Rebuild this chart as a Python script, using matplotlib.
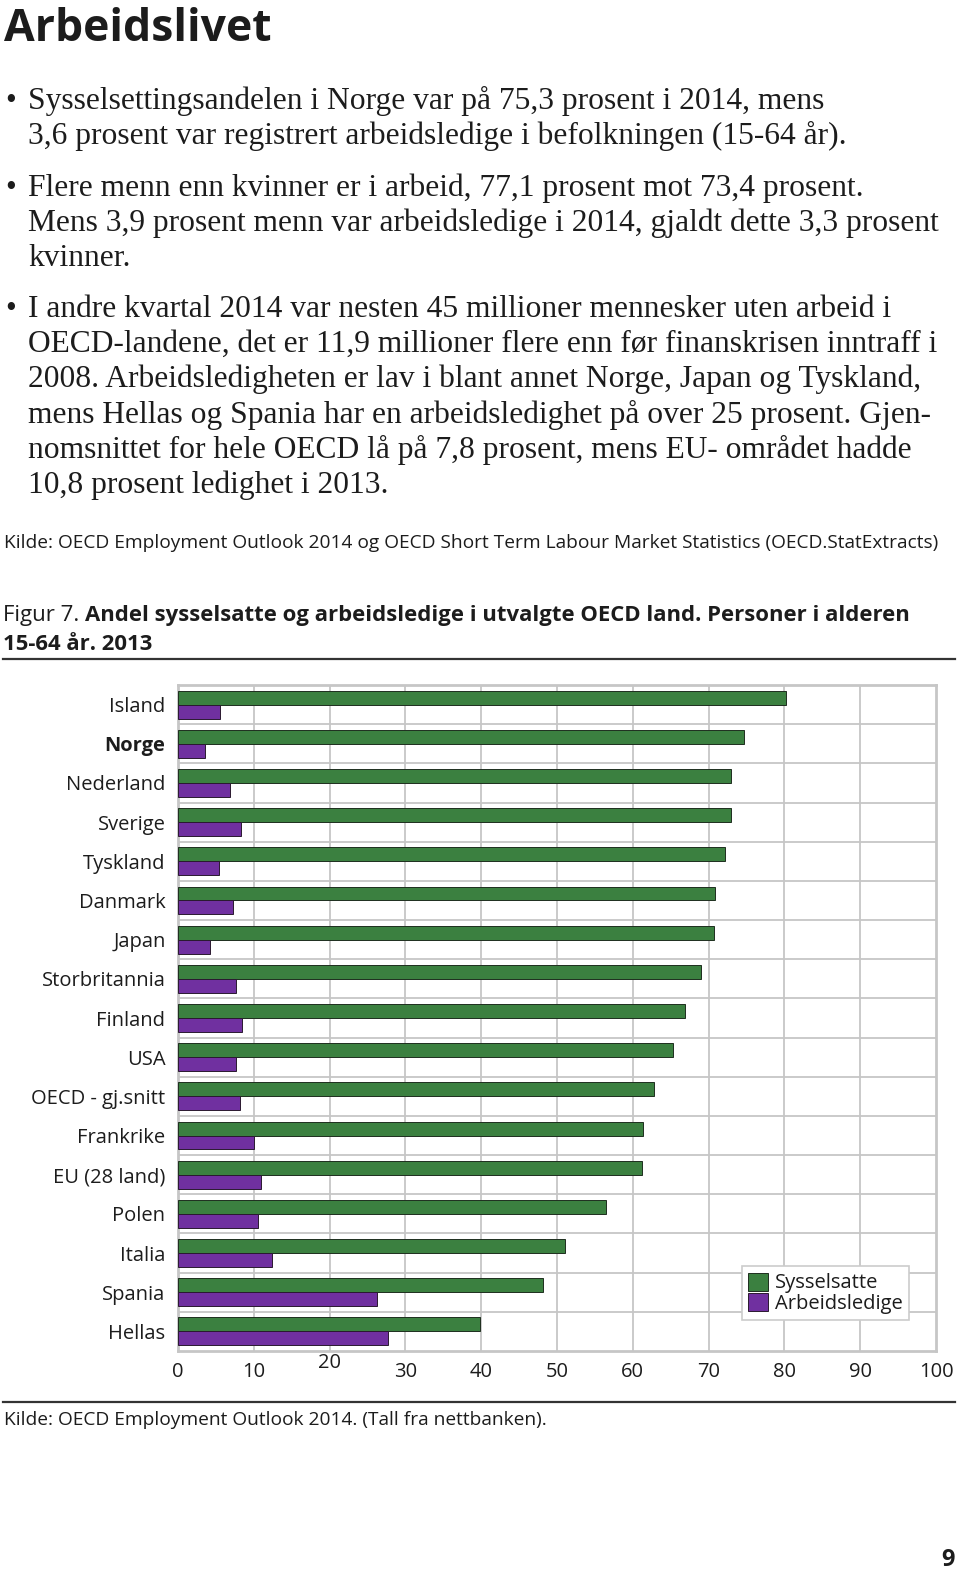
import matplotlib
matplotlib.use("Agg")
from matplotlib import pyplot as plt
from matplotlib.transforms import ScaledTranslation

W, H = 960, 1573

countries = ["Island", "Norge", "Nederland", "Sverige", "Tyskland", "Danmark", "Japan",
             "Storbritannia", "Finland", "USA", "OECD - gj.snitt", "Frankrike",
             "EU (28 land)", "Polen", "Italia", "Spania", "Hellas"]
sysselsatte = [80.2, 74.7, 73.0, 72.9, 72.1, 70.9, 70.7, 69.0, 66.9, 65.3,
               62.8, 61.3, 61.2, 56.5, 51.1, 48.2, 39.9]
arbeidsledige = [5.5, 3.6, 6.8, 8.3, 5.4, 7.2, 4.2, 7.7, 8.4, 7.6,
                 8.2, 10.0, 10.9, 10.5, 12.4, 26.2, 27.7]
xticks = list(range(0, 101, 10))

bullet_lines = [
    ["Sysselsettingsandelen i Norge var på 75,3 prosent i 2014, mens",
     "3,6 prosent var registrert arbeidsledige i befolkningen (15-64 år)."],
    ["Flere menn enn kvinner er i arbeid, 77,1 prosent mot 73,4 prosent.",
     "Mens 3,9 prosent menn var arbeidsledige i 2014, gjaldt dette 3,3 prosent",
     "kvinner."],
    ["I andre kvartal 2014 var nesten 45 millioner mennesker uten arbeid i",
     "OECD-landene, det er 11,9 millioner flere enn før finanskrisen inntraff i",
     "2008. Arbeidsledigheten er lav i blant annet Norge, Japan og Tyskland,",
     "mens Hellas og Spania har en arbeidsledighet på over 25 prosent. Gjen-",
     "nomsnittet for hele OECD lå på 7,8 prosent, mens EU- området hadde",
     "10,8 prosent ledighet i 2013."],
]
bullet_top = [109, 196, 317]
kilde1 = "Kilde: OECD Employment Outlook 2014 og OECD Short Term Labour Market Statistics (OECD.StatExtracts)"
kilde2 = "Kilde: OECD Employment Outlook 2014. (Tall fra nettbanken)."

SANS = "Open Sans"
SERIF = "Liberation Serif"
INK = "#1c1c1c"
GREEN = "#3b8040"
PURPLE = "#7030a0"
GRID = "#c6c6c6"


def fx(x):
    return x / W


def fy(y):
    return 1 - y / H


fig = plt.figure(figsize=(W / 100, H / 100), dpi=100)

# header and bullet text
fig.text(fx(4), fy(41), "Arbeidslivet", family=SANS, weight="bold", size=32, color=INK,
         va="baseline")
for lines, y0 in zip(bullet_lines, bullet_top):
    fig.text(fx(5), fy(y0), "•", family=SERIF, size=22, color=INK, va="baseline")
    for k, line in enumerate(lines):
        fig.text(fx(28), fy(y0 + k * 35.2), line, family=SERIF, size=22.7, color=INK,
                 va="baseline")

fig.text(fx(4), fy(548), kilde1, family=SANS, size=13.8, color=INK, va="baseline")

# figure caption, normal + bold
r = fig.canvas.get_renderer()
t = fig.text(fx(3), fy(621), "Figur 7. ", family=SANS, size=16, color=INK, va="baseline")
x_end = t.get_window_extent(renderer=r).x1
fig.text(x_end / W, fy(621), "Andel sysselsatte og arbeidsledige i utvalgte OECD land. Personer i alderen",
         family=SANS, weight="bold", size=15.9, color=INK, va="baseline")
fig.text(fx(3), fy(650), "15-64 år. 2013", family=SANS, weight="bold", size=15.9, color=INK,
         va="baseline")

fig.add_artist(plt.Line2D([fx(3), fx(955)], [fy(659), fy(659)], color="#333333", lw=1.6))
fig.add_artist(plt.Line2D([fx(3), fx(955)], [fy(1402), fy(1402)], color="#333333", lw=1.6))
fig.text(fx(4), fy(1425), kilde2, family=SANS, size=13.8, color=INK, va="baseline")
fig.text(fx(955), fy(1566), "9", family=SANS, weight="bold", size=17, color=INK,
         va="baseline", ha="right")

# chart
ax = fig.add_axes([fx(178), fy(1351), (936 - 178) / W, (1351 - 685) / H])
n = len(countries)
pos = list(range(n))
h = 0.357
ax.barh([p - 0.178 for p in pos], sysselsatte, height=h, color=GREEN, edgecolor="#1e2e1e",
        linewidth=0.7, label="Sysselsatte", zorder=3)
ax.barh([p + 0.178 for p in pos], arbeidsledige, height=h, color=PURPLE, edgecolor="#2a1a30",
        linewidth=0.7, label="Arbeidsledige", zorder=3)

ax.set_xlim(0, 100)
ax.set_ylim(n - 0.5, -0.5)
ax.set_xticks(xticks)
ax.set_yticks(pos)
ax.set_yticklabels(countries)
for xv in xticks[1:-1]:
    ax.axvline(xv, color=GRID, lw=1.3, zorder=1)
for k in range(n - 1):
    ax.axhline(k + 0.5, color=GRID, lw=1.3, zorder=1)
for s in ax.spines.values():
    s.set_color(GRID)
    s.set_linewidth(2)
ax.tick_params(length=0)
ax.tick_params(axis="y", pad=9)
ax.tick_params(axis="x", pad=8)
for lab in ax.get_yticklabels() + ax.get_xticklabels():
    lab.set_family(SANS)
    lab.set_size(14.5)
    lab.set_color(INK)
ax.get_yticklabels()[1].set_weight("bold")
lab20 = ax.get_xticklabels()[2]
lab20.set_transform(lab20.get_transform() + ScaledTranslation(0, 0.09, fig.dpi_scale_trans))

leg = ax.legend(loc="lower left", bbox_to_anchor=(0.744, 0.046), borderaxespad=0,
                prop={"family": SANS, "size": 14.5}, handlelength=1.0, handleheight=1.0,
                handletextpad=0.35, labelspacing=0.0, borderpad=0.3, fancybox=False,
                framealpha=1, edgecolor="#cccccc")
leg.get_frame().set_linewidth(1.2)
for txt in leg.get_texts():
    txt.set_color(INK)

fig.savefig("out.png", dpi=100)
